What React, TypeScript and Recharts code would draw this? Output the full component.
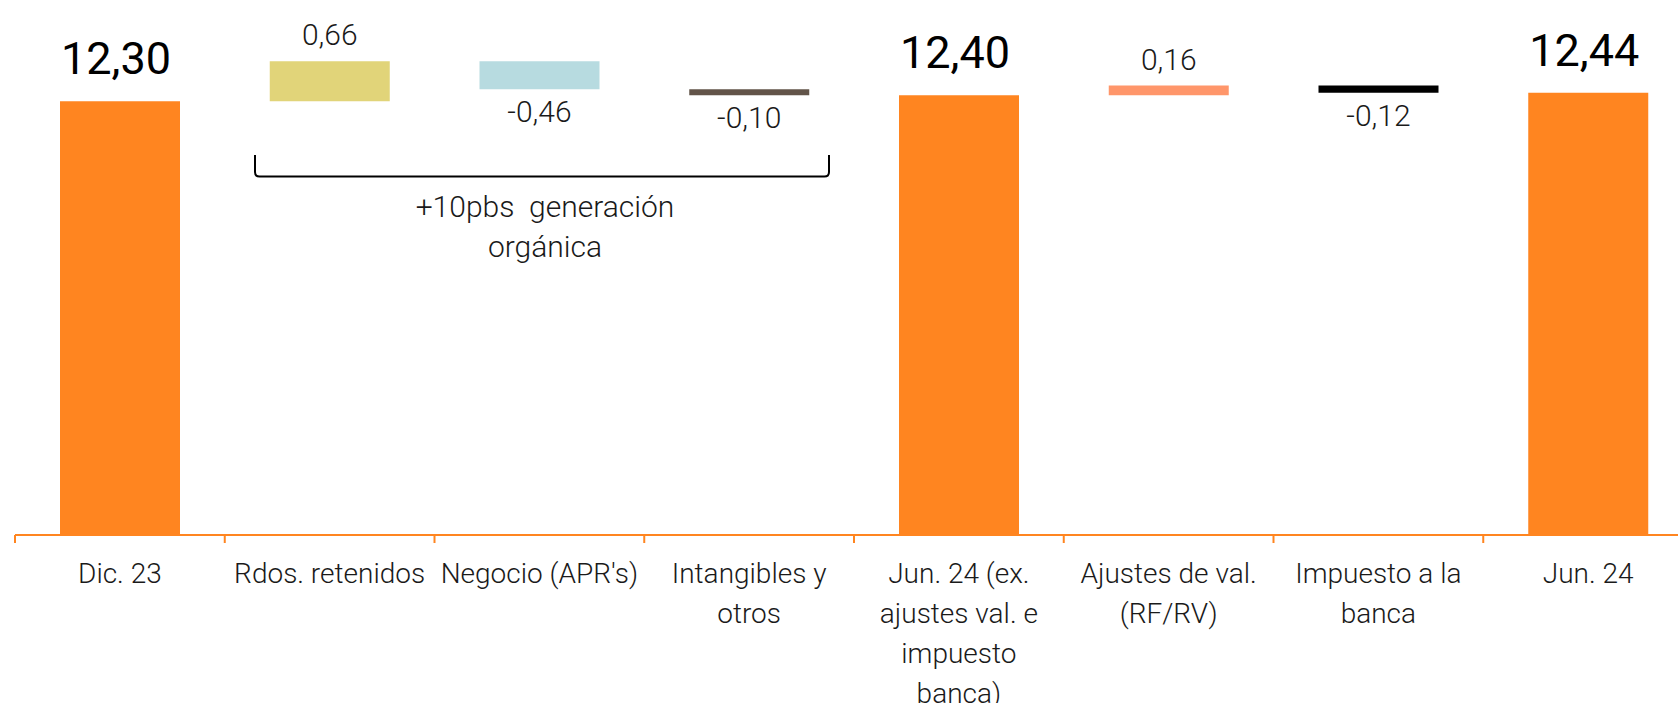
import React from "react";
import { BarChart, Bar, XAxis, YAxis, Cell, LabelList } from "recharts";

// categories (line breaks as in the slide)
const categories = [
  "Dic. 23",
  "Rdos. retenidos",
  "Negocio (APR's)",
  "Intangibles y\notros",
  "Jun. 24 (ex.\najustes val. e\nimpuesto\nbanca)",
  "Ajustes de val.\n(RF/RV)",
  "Impuesto a la\nbanca",
  "Jun. 24",
];
const amounts = [12.3, 0.66, -0.46, -0.1, 12.4, 0.16, -0.12, 12.44];
const isTotal = [true, false, false, false, true, false, false, true];
const barColors = [
  "#FF8520",
  "#E1D479",
  "#B7DBE0",
  "#625449",
  "#FF8520",
  "#FF966A",
  "#000000",
  "#FF8520",
];

const ORANGE = "#FF8520";
const FONT = "Roboto, 'Noto Sans', sans-serif";

const CHART_W = 1693;
const CHART_H = 703;
const MARGIN = { top: 10.5, right: 0, left: 15, bottom: 0 };
const BAND = (CHART_W - MARGIN.left - MARGIN.right) / categories.length;

// waterfall rows: totals go from the axis floor, steps float
let level = 0;
const rows = categories.map((name, i) => {
  if (isTotal[i]) {
    level = amounts[i];
    return { name, amount: amounts[i], range: amounts[i] };
  }
  const start = level;
  level = level + amounts[i];
  return {
    name,
    amount: amounts[i],
    range: [Math.min(start, level), Math.max(start, level)],
  };
});

const fmt = (v: number) => v.toFixed(2).replace(".", ",");

const renderLabel = (props: any) => {
  const { x, y, width, height, index } = props;
  const v = amounts[index];
  const top = Math.min(y, y + height);
  const bottom = Math.max(y, y + height);
  const cx = x + width / 2;
  if (isTotal[index]) {
    return (
      <text x={cx - 4} y={top - 27} textAnchor="middle" fontSize={45} fill="#000" fontFamily={FONT}>
        {fmt(v)}
      </text>
    );
  }
  return (
    <text
      x={cx}
      y={v >= 0 ? top - 16 : bottom + 33}
      textAnchor="middle"
      fontSize={30}
      fontWeight={300}
      fill="#1a1a1a"
      fontFamily={FONT}
    >
      {fmt(v)}
    </text>
  );
};

const CategoryTick = (props: any) => {
  const { x, y, payload } = props;
  const lines = String(payload.value).split("\n");
  const left = x - BAND / 2;
  return (
    <g>
      <line x1={left} x2={left} y1={y - 8} y2={y} stroke={ORANGE} strokeWidth={2} />
      <text textAnchor="middle" fontSize={28} fontWeight={300} fill="#1a1a1a" fontFamily={FONT}>
        {lines.map((l, i) => (
          <tspan key={i} x={x} y={y + 40 + i * 40}>
            {l}
          </tspan>
        ))}
      </text>
    </g>
  );
};

export default function App() {
  return (
    <div
      style={{
        position: "fixed",
        left: 0,
        top: 0,
        width: 1678,
        height: 703,
        overflow: "hidden",
        background: "white",
      }}
    >
      <BarChart width={CHART_W} height={CHART_H} data={rows} margin={MARGIN}>
        <XAxis
          dataKey="name"
          height={168}
          interval={0}
          tickSize={8}
          tickMargin={0}
          tickLine={false}
          axisLine={{ stroke: ORANGE, strokeWidth: 2 }}
          tick={<CategoryTick />}
        />
        <YAxis hide type="number" domain={[5.13, 13.8]} allowDataOverflow />
        <Bar dataKey="range" barSize={120} isAnimationActive={false}>
          {rows.map((r, i) => (
            <Cell key={r.name} fill={barColors[i]} />
          ))}
          <LabelList dataKey="amount" content={renderLabel} />
        </Bar>
      </BarChart>

      {/* bracket + note over the organic-generation steps */}
      <svg
        width={1678}
        height={703}
        style={{ position: "absolute", left: 0, top: 0, pointerEvents: "none" }}
      >
        <path
          d="M255 155 L255 172 Q255 176.5 259.5 176.5 L824.5 176.5 Q829 176.5 829 172 L829 155"
          fill="none"
          stroke="#000"
          strokeWidth={2}
        />
        <text
          textAnchor="middle"
          fontSize={30}
          fontWeight={300}
          fill="#1a1a1a"
          fontFamily={FONT}
          style={{ whiteSpace: "pre" }}
        >
          <tspan x={545} y={217}>
            {"+10pbs  generación"}
          </tspan>
          <tspan x={545} y={257}>
            orgánica
          </tspan>
        </text>
      </svg>
    </div>
  );
}
